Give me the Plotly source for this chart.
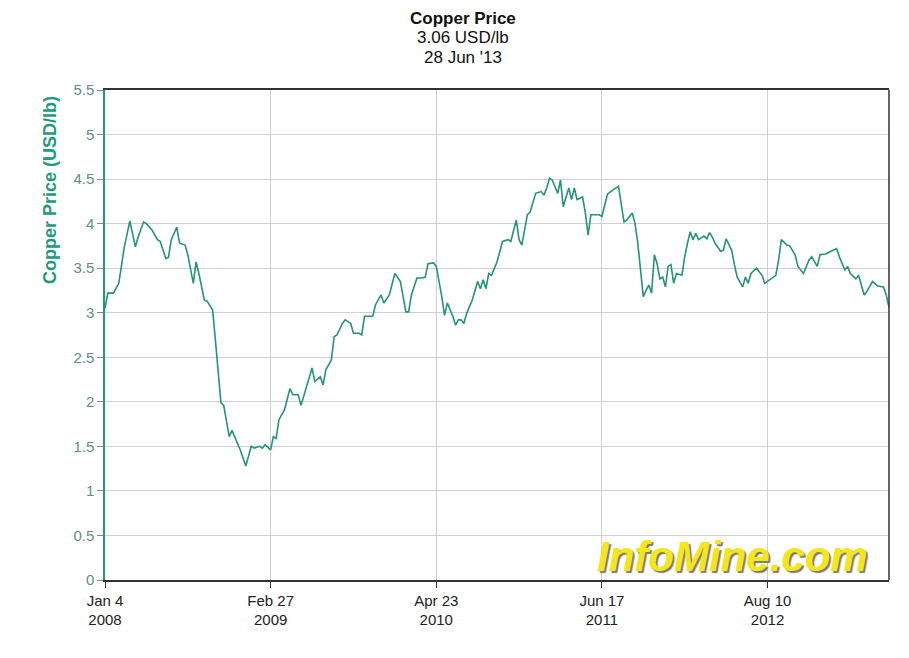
import datetime as dt
import plotly.graph_objects as go

# --- data (weekly index since 4 Jan 2008, price USD/lb) ---
start_date = "2008-01-04"
weeks = [0, 1, 3, 5, 7, 9, 11, 12, 14, 15, 17, 19, 20, 22, 23, 24, 26, 27, 29, 30,
         32, 33, 34, 36, 37, 39, 40, 41, 42, 43, 44, 45, 46, 47, 49, 51, 53, 54, 56, 57,
         58, 60, 61, 62, 63, 65, 67, 68, 70, 71, 73, 75, 76, 78, 79, 80, 82, 83, 84, 85,
         86, 87, 89, 90, 92, 93, 94, 95, 97, 98, 100, 101, 103, 105, 107, 109, 110, 111, 113, 115,
         116, 117, 119, 120, 121, 122, 123, 124, 126, 127, 128, 129, 130, 131, 133, 135, 136, 137, 138, 139,
         140, 142, 144, 146, 147, 149, 150, 151, 153, 154, 156, 158, 159, 160, 161, 162, 164, 165, 166, 168,
         169, 170, 171, 173, 174, 175, 176, 178, 179, 180, 182, 184, 186, 188, 189, 191, 192, 193, 194, 195,
         196, 197, 198, 199, 200, 201, 202, 203, 204, 205, 206, 207, 209, 210, 211, 212, 213, 214, 215, 217,
         218, 219, 220, 221, 223, 224, 225, 227, 228, 229, 231, 232, 233, 234, 236, 238, 239, 241, 243, 244,
         245, 247, 248, 250, 251, 253, 255, 256, 258, 259, 261, 263, 265, 266, 268, 269, 270, 272, 273, 275,
         276, 278, 280, 282, 283, 284]
prices = [3.05, 3.22, 3.22, 3.33, 3.74, 4.03, 3.74, 3.85, 4.02, 4.00, 3.93, 3.82, 3.80, 3.61, 3.62, 3.82, 3.96, 3.78, 3.76, 3.65,
          3.33, 3.57, 3.44, 3.14, 3.13, 3.03, 2.69, 2.32, 1.99, 1.96, 1.80, 1.61, 1.68, 1.61, 1.46, 1.28, 1.50, 1.48, 1.50, 1.48,
          1.52, 1.46, 1.61, 1.59, 1.80, 1.91, 2.15, 2.08, 2.08, 1.96, 2.17, 2.38, 2.23, 2.28, 2.19, 2.36, 2.47, 2.73, 2.75, 2.82,
          2.88, 2.92, 2.88, 2.77, 2.77, 2.75, 2.96, 2.96, 2.96, 3.09, 3.20, 3.11, 3.20, 3.44, 3.35, 3.01, 3.01, 3.20, 3.39, 3.39,
          3.40, 3.55, 3.56, 3.52, 3.37, 3.18, 2.97, 3.11, 2.96, 2.86, 2.92, 2.92, 2.88, 2.99, 3.14, 3.35, 3.27, 3.37, 3.27, 3.44,
          3.42, 3.57, 3.80, 3.82, 3.80, 4.04, 3.82, 3.76, 4.10, 4.13, 4.34, 4.36, 4.32, 4.40, 4.51, 4.49, 4.34, 4.49, 4.19, 4.40,
          4.27, 4.40, 4.27, 4.30, 4.12, 3.87, 4.10, 4.10, 4.10, 4.08, 4.33, 4.38, 4.42, 4.02, 4.04, 4.12, 4.00, 3.78, 3.48, 3.18,
          3.25, 3.31, 3.22, 3.65, 3.55, 3.38, 3.40, 3.29, 3.52, 3.54, 3.33, 3.44, 3.42, 3.63, 3.78, 3.91, 3.82, 3.89, 3.82, 3.86,
          3.83, 3.90, 3.85, 3.78, 3.69, 3.70, 3.83, 3.70, 3.54, 3.40, 3.29, 3.40, 3.33, 3.44, 3.50, 3.42, 3.33, 3.38, 3.42, 3.59,
          3.82, 3.76, 3.75, 3.65, 3.52, 3.44, 3.59, 3.63, 3.52, 3.65, 3.66, 3.69, 3.72, 3.63, 3.48, 3.52, 3.44, 3.38, 3.42, 3.20,
          3.24, 3.35, 3.30, 3.29, 3.20, 3.06]
tick_weeks = [0, 60, 120, 180, 240]
tick_labels = ["Jan 4<br>2008", "Feb 27<br>2009", "Apr 23<br>2010", "Jun 17<br>2011", "Aug 10<br>2012"]
y_ticks = [0, 0.5, 1, 1.5, 2, 2.5, 3, 3.5, 4, 4.5, 5, 5.5]
title_lines = ["Copper Price", "3.06 USD/lb", "28 Jun '13"]

t0 = dt.datetime.strptime(start_date, "%Y-%m-%d")
dates = [t0 + dt.timedelta(weeks=w) for w in weeks]
tick_dates = [t0 + dt.timedelta(weeks=w) for w in tick_weeks]

FONT = "Liberation Sans, Arial, sans-serif"
TEAL = "#1f9a7a"

fig = go.Figure()
fig.add_trace(go.Scatter(x=dates, y=prices, mode="lines",
                         line=dict(color="#24937a", width=1.6), hoverinfo="x+y"))

fig.update_layout(
    width=909, height=658,
    margin=dict(l=97, r=28, t=82, b=86),
    paper_bgcolor="white", plot_bgcolor="white",
    showlegend=False,
    font=dict(family=FONT, size=15, color="#222"),
)
fig.update_xaxes(
    type="date", range=[dates[0], dates[-1]],
    tickmode="array", tickvals=tick_dates, ticktext=tick_labels,
    showgrid=True, gridcolor="#cfcfcf", gridwidth=1,
    showline=True, linecolor="#333", linewidth=1.5, mirror=True,
    ticks="outside", ticklen=6, tickcolor="#333",
    tickfont=dict(family=FONT, size=15, color="#222"), zeroline=False,
)
fig.update_yaxes(
    range=[0, 5.5], tickmode="array", tickvals=y_ticks,
    ticktext=[f"{v:g}" for v in y_ticks],
    showgrid=True, gridcolor="#cfcfcf", gridwidth=1,
    showline=True, linecolor=TEAL, linewidth=1.5,
    ticks="outside", ticklen=6, tickcolor="#888",
    tickfont=dict(family=FONT, size=15, color="#5f8f84"), zeroline=False,
)
# right border of the frame
fig.add_shape(type="line", xref="paper", yref="paper", x0=1, x1=1, y0=0, y1=1,
              line=dict(color="#333", width=1.5))

# title block
for line_text, shift, size in [(f"<b>{title_lines[0]}</b>", 72, 17),
                               (title_lines[1], 53, 17),
                               (title_lines[2], 33, 17)]:
    fig.add_annotation(text=line_text, xref="paper", yref="paper",
                       x=0.457, y=1, yshift=shift, xanchor="center", yanchor="middle",
                       showarrow=False, font=dict(family=FONT, size=size, color="#111"))

# y-axis title
fig.add_annotation(text="<b>Copper Price (USD/lb)</b>", xref="paper", yref="paper",
                   x=-0.070, y=0.796, textangle=-90, xanchor="center", yanchor="middle",
                   showarrow=False, font=dict(family=FONT, size=18, color=TEAL))

# watermark logo (single text with a drop shadow)
fig.add_annotation(text="<b><i>InfoMine.com</i></b>", xref="paper", yref="paper",
                   x=0.801, y=0.047, xanchor="center", yanchor="middle", showarrow=False,
                   font=dict(family=FONT, size=42, color="#f3e61a",
                             shadow="2px 2px 1px #7d7d6e"))

fig.write_html("out.html")
